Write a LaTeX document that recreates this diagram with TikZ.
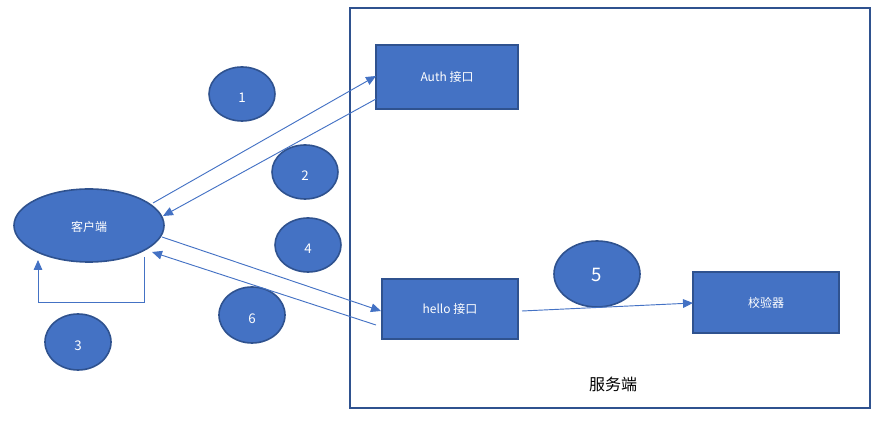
\documentclass[tikz,border=0pt]{standalone}
\usepackage{fontspec}
\setmainfont{Noto Sans CJK SC}
\usetikzlibrary{arrows.meta,shapes.geometric}
\definecolor{fillb}{HTML}{4472C4}
\definecolor{edgeb}{HTML}{2F528F}
\tikzset{
  boxn/.style={draw=edgeb,fill=fillb,line width=1.5pt,text=white,font=\fontsize{9}{11}\selectfont,inner sep=0pt},
  numn/.style={ellipse,draw=edgeb,fill=fillb,line width=1.2pt,text=white,font=\fontsize{10}{12}\selectfont,inner sep=0pt,text height=12.5pt,text depth=0pt},
  conn/.style={draw=fillb,line width=0.7pt,-{Triangle[length=7.5pt,width=6.5pt]}}
}
\begin{document}
\begin{tikzpicture}[x=0.75pt,y=-0.75pt]
\useasboundingbox (0,0) rectangle (878,423);
\node[draw=edgeb,line width=1.5pt,minimum width=520*0.75pt,minimum height=400*0.75pt,inner sep=0pt] (server) at (610,208) {};
\node[font=\fontsize{12}{14}\selectfont] (serverlbl) at (613,384) {服务端};
\node[boxn,minimum width=142*0.75pt,minimum height=64*0.75pt] (auth) at (447,77) {Auth 接口};
\node[boxn,minimum width=136*0.75pt,minimum height=60*0.75pt] (hello) at (450,309) {hello 接口};
\node[boxn,minimum width=146*0.75pt,minimum height=61*0.75pt] (check) at (766,302.5) {校验器};
\node[numn,minimum width=150*0.75pt,minimum height=73*0.75pt,font=\fontsize{9}{11}\selectfont,text height=9pt] (client) at (89,225.5) {客户端};
\node[numn,minimum width=66*0.75pt,minimum height=54*0.75pt] (n1) at (242,94) {1};
\node[numn,minimum width=66*0.75pt,minimum height=54*0.75pt] (n2) at (305,172) {2};
\node[numn,minimum width=66*0.75pt,minimum height=54*0.75pt] (n4) at (308,245) {4};
\node[numn,minimum width=66*0.75pt,minimum height=56*0.75pt] (n6) at (252,315) {6};
\node[numn,minimum width=66*0.75pt,minimum height=56*0.75pt] (n3) at (78,342) {3};
\node[numn,minimum width=86*0.75pt,minimum height=66*0.75pt,font=\fontsize{14}{16}\selectfont,text height=11pt] (n5) at (597,274) {5};
\coordinate (a1s) at (153,203);
\coordinate (a1e) at (376,76);
\coordinate (a2s) at (376,99);
\coordinate (a2e) at (163,216);
\coordinate (a4s) at (162,237);
\coordinate (a4e) at (381,311);
\coordinate (a6s) at (376,325);
\coordinate (a6e) at (152,252);
\coordinate (a3s) at (144,257);
\coordinate (a3e) at (38,260);
\coordinate (a5s) at (522,311);
\coordinate (a5e) at (693,303);
\draw[conn] (a1s) -- (a1e);
\draw[conn] (a2s) -- (a2e);
\draw[conn] (a4s) -- (a4e);
\draw[conn] (a6s) -- (a6e);
\draw[conn] (a3s) -- (144,302) -- (38,302) -- (a3e);
\draw[conn] (a5s) -- (a5e);
\end{tikzpicture}
\end{document}
